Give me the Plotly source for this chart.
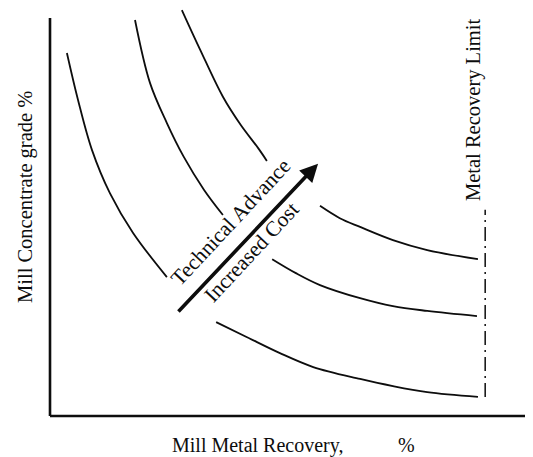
import plotly.graph_objects as go

# ---- data (arbitrary units: recovery 0-100, grade 0-100) ----
# three iso-cost curves, each split into an upper-left and lower-right branch
curve_low_upper_x = [3.5, 5.8, 8.7, 12.4, 17.2, 24.2]
curve_low_upper_y = [91.2, 79.4, 66.8, 56.0, 46.0, 34.9]
curve_low_lower_x = [34.4, 40.8, 47.6, 54.5, 64.2, 71.0, 78.1, 88.6]
curve_low_lower_y = [23.6, 19.8, 15.8, 12.3, 9.3, 7.5, 6.0, 4.8]

curve_mid_upper_x = [17.6, 20.7, 24.2, 27.7, 31.9, 35.8]
curve_mid_upper_y = [99.5, 83.7, 73.6, 65.1, 56.8, 50.5]
curve_mid_lower_x = [46.0, 50.9, 55.9, 64.2, 71.0, 78.1, 88.4]
curve_mid_lower_y = [39.4, 35.9, 32.9, 29.6, 27.6, 26.4, 25.1]

curve_high_upper_x = [27.3, 31.1, 35.8, 39.5, 43.1, 44.9]
curve_high_upper_y = [102.0, 92.0, 80.2, 73.1, 67.3, 64.1]
curve_high_lower_x = [55.9, 60.0, 64.2, 71.0, 78.1, 88.6]
curve_high_lower_y = [52.8, 49.7, 47.5, 44.2, 41.7, 39.4]

limit_x = [90.1, 90.1]
limit_y = [4.8, 51.8]

arrow_tail = (26.3, 25.9)
arrow_head = (55.5, 63.4)

x_title = "Mill Metal Recovery,"
x_unit = "%"
y_title = "Mill Concentrate grade %"
limit_label = "Metal Recovery Limit"
arrow_label_top = "Technical Advance"
arrow_label_bottom = "Increased Cost"

INK = "#0d0d0d"
FONT = "Liberation Serif, Times New Roman, serif"

fig = go.Figure()

segments = [
    (curve_low_upper_x, curve_low_upper_y),
    (curve_low_lower_x, curve_low_lower_y),
    (curve_mid_upper_x, curve_mid_upper_y),
    (curve_mid_lower_x, curve_mid_lower_y),
    (curve_high_upper_x, curve_high_upper_y),
    (curve_high_lower_x, curve_high_lower_y),
]
for xs, ys in segments:
    fig.add_trace(go.Scatter(x=xs, y=ys, mode="lines",
                             line=dict(color=INK, width=1.8, shape="spline", smoothing=1.0),
                             hoverinfo="skip", showlegend=False))

fig.add_trace(go.Scatter(x=limit_x, y=limit_y, mode="lines",
                         line=dict(color=INK, width=1.5, dash="14px,5px,2px,5px"),
                         hoverinfo="skip", showlegend=False))

# axis lines
fig.add_shape(type="line", x0=0, y0=0, x1=0, y1=100, line=dict(color=INK, width=2.6))
fig.add_shape(type="line", x0=0, y0=0, x1=100, y1=0, line=dict(color=INK, width=2.6))

# arrow
fig.add_annotation(x=arrow_head[0], y=arrow_head[1], ax=arrow_tail[0], ay=arrow_tail[1],
                   xref="x", yref="y", axref="x", ayref="y", text="", showarrow=True,
                   arrowhead=2, arrowsize=1.0, arrowwidth=3.6, arrowcolor=INK)

def label(x, y, text, size, angle=0):
    fig.add_annotation(x=x, y=y, xref="x", yref="y", text=text, showarrow=False,
                       textangle=angle, xanchor="center", yanchor="middle",
                       font=dict(family=FONT, size=size, color=INK))

label(37.5, 48.7, arrow_label_top, 21.5, -47)
label(41.8, 41.2, arrow_label_bottom, 21.5, -47)
label(-5.2, 55.0, y_title, 20.5, -90)
label(87.8, 76.9, limit_label, 20.5, -90)
label(42.9, -7.3, x_title, 20)
label(73.9, -7.3, x_unit, 20)

# the page body adds an 8px margin, so the figure is 8px smaller than the window
fig.update_layout(
    width=525, height=449,
    margin=dict(l=0, r=0, t=0, b=0),
    paper_bgcolor="white", plot_bgcolor="white",
    xaxis=dict(range=[-8.696, 100], visible=False, fixedrange=True),
    yaxis=dict(range=[-10.30, 102.51], visible=False, fixedrange=True),
    showlegend=False,
)

fig.write_html("out.html")
